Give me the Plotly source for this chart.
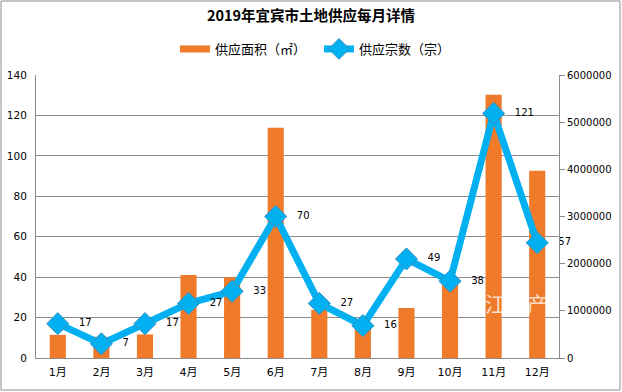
import plotly.graph_objects as go

months = ["1月", "2月", "3月", "4月", "5月", "6月", "7月", "8月", "9月", "10月", "11月", "12月"]
area_m2 = [490000, 450000, 500000, 1760000, 1710000, 4880000, 1020000, 700000, 1060000, 1600000, 5580000, 3970000]
parcels = [17, 7, 17, 27, 33, 70, 27, 16, 49, 38, 121, 57]

left_ticks = [0, 20, 40, 60, 80, 100, 120, 140]
right_ticks = [0, 1000000, 2000000, 3000000, 4000000, 5000000, 6000000]

ORANGE = "#EE7A2A"
BLUE = "#00B0F0"
GRID = "#8C8C8C"
CJK = "Noto Sans CJK SC"
NUM = "DejaVu Sans, Noto Sans CJK SC"

W, H = 622, 392
ML, MR, MT, MB = 36, 63, 75, 34
PW, PH = W - ML - MR, H - MT - MB

fig = go.Figure()

fig.add_trace(go.Bar(
    x=months, y=area_m2, yaxis="y", name="供应面积（㎡）",
    marker=dict(color=ORANGE, line=dict(width=0)),
    width=0.37, showlegend=False,
))
# legend proxy for the bar series (wide thin swatch like the original)
fig.add_trace(go.Scatter(
    x=[None], y=[None], mode="lines", name="供应面积（㎡）",
    line=dict(color=ORANGE, width=7), yaxis="y",
))
fig.add_trace(go.Scatter(
    x=months, y=parcels, yaxis="y2", name="供应宗数（宗）",
    mode="lines+markers+text",
    line=dict(color=BLUE, width=7),
    marker=dict(symbol="diamond", size=17, color=BLUE, line=dict(color="#3A8FC0", width=1)),
    text=[str(v) for v in parcels],
    texttemplate="   %{text}",
    textposition="middle right",
    textfont=dict(family=NUM, size=10, color="#000000"),
    cliponaxis=False,
))

fig.update_layout(
    width=W, height=H,
    margin=dict(l=ML, r=MR, t=MT, b=MB, pad=0, autoexpand=False),
    paper_bgcolor="white", plot_bgcolor="white",
    font=dict(family=NUM, size=10, color="#000000"),
    title=dict(text="<b>2019年宜宾市土地供应每月详情</b>", x=0.5, xanchor="center",
               y=1 - 16 / H, yanchor="middle", font=dict(family=CJK, size=14.5, color="#000000")),
    legend=dict(orientation="h", x=(319 - ML) / PW, xanchor="center", y=1 + 26 / PH, yanchor="middle",
                font=dict(family=CJK, size=13, color="#000000"), itemwidth=30,
                bgcolor="rgba(0,0,0,0)", entrywidth=99),
    xaxis=dict(type="category", range=[-0.5, 11.5], showline=True, linecolor=GRID, linewidth=1,
               ticks="outside", ticklen=4, tickcolor="rgba(0,0,0,0)",
               tickfont=dict(family=NUM, size=11), showgrid=False, zeroline=False),
    yaxis=dict(side="right", range=[0, 6000000], tickvals=right_ticks,
               ticktext=[str(v) for v in right_ticks], showgrid=False, zeroline=False,
               showline=True, linecolor=GRID, linewidth=1, ticks="outside", ticklen=5,
               tickcolor=GRID, tickfont=dict(family=NUM, size=10)),
    yaxis2=dict(side="left", overlaying="y", range=[0, 140], tickvals=left_ticks,
                showgrid=True, gridcolor=GRID, gridwidth=1, zeroline=False,
                showline=True, linecolor=GRID, linewidth=1,
                ticks="outside", ticklen=6, tickcolor="rgba(0,0,0,0)",
                tickfont=dict(family=NUM, size=10.5)),
    shapes=[dict(type="rect", xref="paper", yref="paper",
                 x0=(1 - ML) / PW, x1=(620 - ML) / PW,
                 y0=(MT + PH - 390) / PH, y1=(MT + PH - 1) / PH,
                 line=dict(color="#8C8C8C", width=1), fillcolor="rgba(0,0,0,0)", layer="below")],
    annotations=[dict(text="江　产", xref="paper", yref="paper",
                      x=(550 - ML) / PW, y=(MT + PH - 320) / PH, showarrow=False,
                      font=dict(family=CJK, size=21, color="rgba(255,255,255,0.75)"))],
)

fig.write_html("out.html", config={"displayModeBar": False},
               post_script="document.body.style.margin='0';document.body.style.padding='0';")
